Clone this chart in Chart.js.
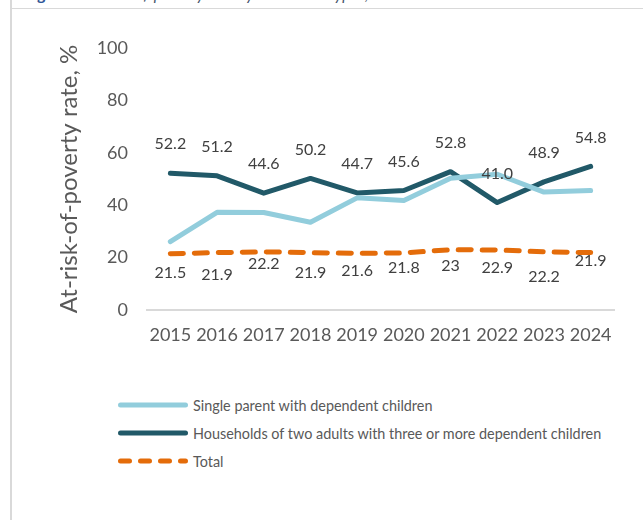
<!DOCTYPE html>
<html lang="en">
<head>
<meta charset="UTF-8">
<title>At-risk-of-poverty rate by household types</title>
<script src="https://cdn.jsdelivr.net/npm/chart.js"></script>
<style>
  html, body { margin: 0; padding: 0; background: #fff; }
  body { width: 643px; height: 520px; position: relative; overflow: hidden; font-family: Lato, "Open Sans", sans-serif; }
  #caption { position: absolute; left: 24px; top: -16px; font-size: 16px; line-height: 20px; white-space: nowrap; color: #44546a; }
  #caption b { color: #2f5597; }
  #caption i { margin-left: 4px; }
  .frame-left { position: absolute; left: 10px; top: 0; width: 2px; height: 520px; background: #d9d9d9; }
  .frame-top { position: absolute; left: 11px; top: 8px; width: 632px; height: 1px; background: #d9d9d9; }
  #chart { position: absolute; left: 0; top: 0; }
  #legend { position: absolute; left: 118px; top: 391px; font-size: 14.4px; color: #595959; }
  #legend div { height: 28px; display: flex; align-items: center; white-space: nowrap; }
  #legend svg { margin-right: 5px; }
</style>
</head>
<body>
<div id="caption"><b>Figure 2</b><i>At-risk-of-poverty rate by household types, %</i></div>
<div class="frame-left"></div>
<div class="frame-top"></div>
<canvas id="chart" width="643" height="370"></canvas>
<div id="legend"></div>

<script>
  const years = ['2015', '2016', '2017', '2018', '2019', '2020', '2021', '2022', '2023', '2024'];
  const singleParent = [26.1, 37.3, 37.2, 33.5, 42.8, 41.8, 50.3, 51.8, 45.0, 45.6];
  const twoAdultsThreeKids = [52.2, 51.2, 44.6, 50.2, 44.7, 45.6, 52.8, 41.0, 48.9, 54.8];
  const total = [21.5, 21.9, 22.2, 21.9, 21.6, 21.8, 23, 22.9, 22.2, 21.9];
  const yTicks = [0, 20, 40, 60, 80, 100];

  // vertical nudge for each value label (px, + is down)
  const totalLabelDy = [19, 22, 12, 20, 17, 15, 16, 18, 25, 8];

  const valueLabels = {
    id: 'valueLabels',
    afterDatasetsDraw(chart) {
      const ctx = chart.ctx;
      ctx.save();
      ctx.font = '16px Lato, "Open Sans", sans-serif';
      ctx.fillStyle = '#404040';
      ctx.textAlign = 'center';
      ctx.textBaseline = 'middle';
      chart.data.datasets.forEach((ds, i) => {
        if (!ds.labels) return;
        chart.getDatasetMeta(i).data.forEach((pt, j) => {
          const dy = Array.isArray(ds.labelDy) ? ds.labelDy[j] : ds.labelDy;
          ctx.fillText(ds.labels[j], pt.x, pt.y + dy);
        });
      });
      ctx.restore();
    }
  };

  const chart = new Chart(document.getElementById('chart'), {
    type: 'line',
    data: {
      labels: years,
      datasets: [
        {
          label: 'Single parent with dependent children',
          data: singleParent,
          borderColor: '#92cddc',
          borderWidth: 5,
          borderCapStyle: 'round',
          borderJoinStyle: 'round',
          pointRadius: 0
        },
        {
          label: 'Households of two adults with three or more dependent children',
          data: twoAdultsThreeKids,
          borderColor: '#215968',
          borderWidth: 5,
          borderCapStyle: 'round',
          borderJoinStyle: 'round',
          pointRadius: 0,
          labels: twoAdultsThreeKids.map(v => v.toFixed(1)),
          labelDy: -29
        },
        {
          label: 'Total',
          data: total,
          borderColor: '#e46c0a',
          borderWidth: 5,
          borderCapStyle: 'round',
          borderDash: [13, 11],
          pointRadius: 0,
          labels: total.map(String),
          labelDy: totalLabelDy
        }
      ]
    },
    options: {
      responsive: false,
      devicePixelRatio: 1,
      animation: false,
      layout: { padding: { top: 48, right: 29, left: 0, bottom: 0 } },
      plugins: {
        legend: { display: false },
        tooltip: { enabled: false }
      },
      scales: {
        x: {
          offset: true,
          grid: { display: false },
          border: { color: '#d9d9d9', width: 2 },
          ticks: {
            color: '#595959',
            font: { size: 18, family: 'Lato' },
            padding: 6,
            maxRotation: 0,
            autoSkip: false
          },
          afterFit(scale) { scale.height = 60; }
        },
        y: {
          min: 0,
          max: 100,
          grid: { display: false, drawTicks: false },
          border: { display: false },
          afterBuildTicks(scale) { scale.ticks = yTicks.map(v => ({ value: v })); },
          ticks: {
            color: '#595959',
            font: { size: 18, family: 'Lato' },
            padding: 19
          },
          title: {
            display: true,
            text: 'At-risk-of-poverty rate, %',
            color: '#595959',
            font: { size: 24, family: 'Lato' },
            padding: { top: 55, bottom: 0 }
          },
          afterFit(scale) { scale.width = 147; }
        }
      }
    },
    plugins: [valueLabels]
  });

  // legend rows with line samples taken from the dataset styles
  const legend = document.getElementById('legend');
  chart.data.datasets.forEach(ds => {
    const row = document.createElement('div');
    const dash = ds.borderDash ? ' stroke-dasharray="9 11"' : '';
    row.innerHTML =
      '<svg width="70" height="8"><line x1="2.5" y1="4" x2="67.5" y2="4" stroke="' + ds.borderColor +
      '" stroke-width="5" stroke-linecap="round"' + dash + '/></svg><span>' + ds.label + '</span>';
    legend.appendChild(row);
  });
</script>
</body>
</html>
